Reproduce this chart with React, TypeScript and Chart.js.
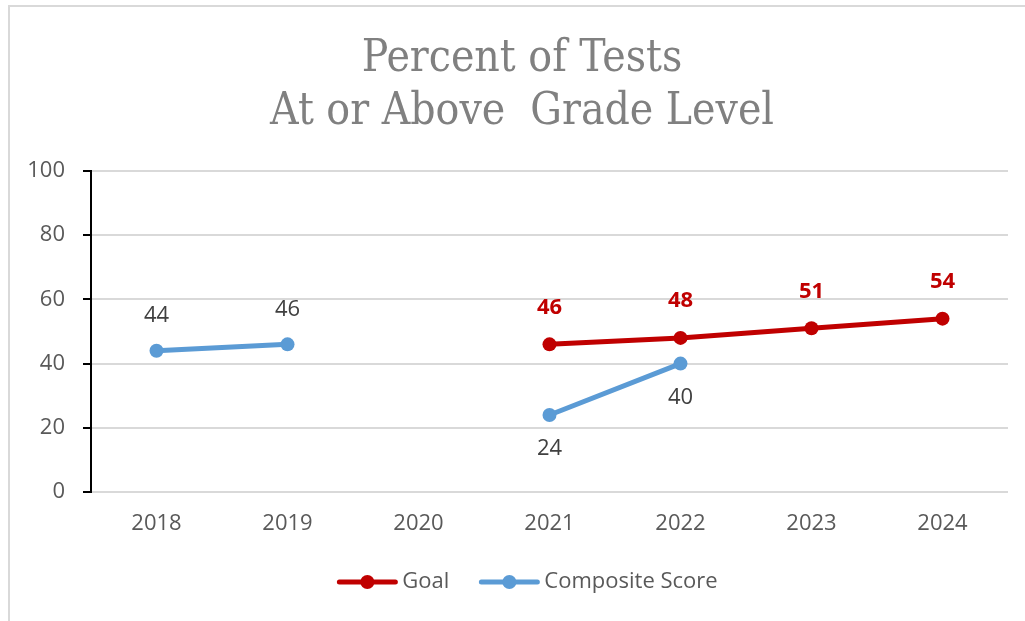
import React, { useEffect, useRef } from "react";
import { Chart, registerables } from "chart.js";

Chart.register(...registerables);

const categories = ["2018", "2019", "2020", "2021", "2022", "2023", "2024"];
const goalValues: (number | null)[] = [null, null, null, 46, 48, 51, 54];
const compositeValues: (number | null)[] = [44, 46, null, 24, 40, null, null];
const titleLines = ["Percent of Tests", "At or Above  Grade Level"];
const seriesNames = ["Goal", "Composite Score"];
const compositeLabelsBelow = ["2021", "2022"];

const GOAL_COLOR = "#c00000";
const COMP_COLOR = "#5b9bd5";
const TEXT_FONT = "'Open Sans', 'Noto Sans', sans-serif";
const TITLE_FONT = "'DejaVu Serif Condensed', 'DejaVu Serif', serif";

const titlePlugin = {
  id: "customTitle",
  afterDraw(chart: any) {
    const ctx = chart.ctx;
    ctx.save();
    ctx.font = `44px ${TITLE_FONT}`;
    ctx.fillStyle = "#808080";
    ctx.textAlign = "center";
    ctx.textBaseline = "middle";
    titleLines.forEach((line, i) => {
      ctx.fillText(line, 512, 53 + i * 53);
    });
    ctx.restore();
  },
};

const dataLabelPlugin = {
  id: "dataLabels",
  afterDatasetsDraw(chart: any) {
    const ctx = chart.ctx;
    ctx.save();
    ctx.textAlign = "center";
    ctx.textBaseline = "middle";
    chart.data.datasets.forEach((ds: any, di: number) => {
      const meta = chart.getDatasetMeta(di);
      meta.data.forEach((pt: any, i: number) => {
        const v = ds.data[i];
        if (v === null || v === undefined) return;
        if (di === 0) {
          ctx.font = `bold 22px ${TEXT_FONT}`;
          ctx.fillStyle = GOAL_COLOR;
          ctx.fillText(String(v), pt.x, pt.y - 37);
        } else {
          ctx.font = `22px ${TEXT_FONT}`;
          ctx.fillStyle = "#404040";
          const below = compositeLabelsBelow.includes(categories[i]);
          ctx.fillText(String(v), pt.x, below ? pt.y + 34 : pt.y - 35);
        }
      });
    });
    ctx.restore();
  },
};

const legendPlugin = {
  id: "customLegend",
  afterDraw(chart: any) {
    const ctx = chart.ctx;
    ctx.save();
    ctx.font = `22px ${TEXT_FONT}`;
    const colors = [GOAL_COLOR, COMP_COLOR];
    const lineW = 60;
    const gap = 5;
    const itemGap = 30;
    const widths = seriesNames.map((n) => lineW + gap + ctx.measureText(n).width);
    const total = widths.reduce((a, b) => a + b, 0) + itemGap * (seriesNames.length - 1);
    let x = chart.width / 2 + 10 - total / 2;
    const y = 575;
    seriesNames.forEach((name, i) => {
      ctx.strokeStyle = colors[i];
      ctx.lineWidth = 5;
      ctx.lineCap = "round";
      ctx.beginPath();
      ctx.moveTo(x + 2, y);
      ctx.lineTo(x + lineW - 2, y);
      ctx.stroke();
      ctx.fillStyle = colors[i];
      ctx.beginPath();
      ctx.arc(x + lineW / 2, y, 7, 0, Math.PI * 2);
      ctx.fill();
      ctx.fillStyle = "#595959";
      ctx.textAlign = "left";
      ctx.textBaseline = "middle";
      ctx.fillText(name, x + lineW + gap, y);
      x += widths[i] + itemGap;
    });
    ctx.restore();
  },
};

export default function App() {
  const ref = useRef<HTMLCanvasElement | null>(null);
  useEffect(() => {
    if (!ref.current) return;
    const chart = new Chart(ref.current, {
      type: "line",
      data: {
        labels: categories,
        datasets: [
          {
            label: seriesNames[0],
            data: goalValues,
            borderColor: GOAL_COLOR,
            backgroundColor: GOAL_COLOR,
            borderWidth: 5,
            pointRadius: 7,
            pointBorderWidth: 0,
            pointBackgroundColor: GOAL_COLOR,
            borderCapStyle: "round",
            borderJoinStyle: "round",
            spanGaps: false,
          },
          {
            label: seriesNames[1],
            data: compositeValues,
            borderColor: COMP_COLOR,
            backgroundColor: COMP_COLOR,
            borderWidth: 5,
            pointRadius: 7,
            pointBorderWidth: 0,
            pointBackgroundColor: COMP_COLOR,
            borderCapStyle: "round",
            borderJoinStyle: "round",
            spanGaps: false,
          },
        ],
      },
      options: {
        responsive: false,
        animation: false,
        layout: { padding: { top: 164, left: 0, right: 17, bottom: 79 } },
        plugins: {
          legend: { display: false },
          tooltip: { enabled: false },
          title: { display: false },
        },
        scales: {
          x: {
            offset: true,
            grid: { display: false, drawTicks: false, offset: true },
            border: { display: false },
            ticks: { color: "#595959", font: { family: TEXT_FONT, size: 22 }, padding: 19 },
            afterFit: (s: any) => { s.height = 50; },
          },
          y: {
            min: 0,
            max: 100,
            ticks: { stepSize: 20, color: "#595959", font: { family: TEXT_FONT, size: 22 }, padding: 18 },
            grid: { color: "#d9d9d9", lineWidth: 2, tickColor: "#000", tickLength: 8, tickWidth: 2 },
            border: { display: true, color: "#000", width: 2 },
            afterFit: (s: any) => { s.width = 81; },
          },
        },
      },
      plugins: [titlePlugin, dataLabelPlugin, legendPlugin],
    });
    return () => chart.destroy();
  }, []);
  return (
    <div
      style={{
        position: "absolute",
        left: 8,
        top: 5,
        borderTop: "2px solid #d9d9d9",
        borderLeft: "2px solid #d9d9d9",
        width: 1015,
        height: 614,
      }}
    >
      <canvas ref={ref} width={1015} height={614} style={{ display: "block" }} />
    </div>
  );
}
